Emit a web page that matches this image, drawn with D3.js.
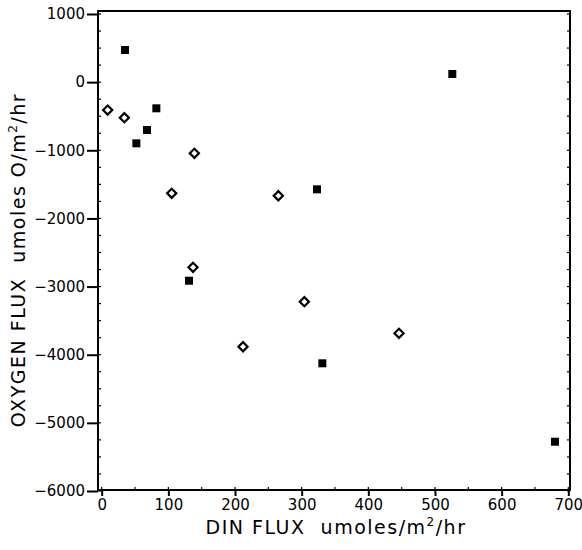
<!DOCTYPE html>
<html>
<head>
<meta charset="utf-8">
<script src="https://cdn.jsdelivr.net/npm/d3@7"></script>
<style>
  body { margin: 0; background: #fff; }
  svg text { font-family: "DejaVu Sans", sans-serif; fill: #000; }
</style>
</head>
<body>
<svg id="chart" width="582" height="550"></svg>
<script>
'use strict';

// filled squares
var filledX = [35, 82, 68, 52, 323, 131, 331, 526, 680];
var filledY = [472, -384, -702, -898, -1573, -2914, -4126, 120, -5277];
// open diamonds
var openX = [9, 34, 139, 105, 265, 137, 304, 212, 446];
var openY = [-409, -522, -1044, -1631, -1667, -2717, -3222, -3883, -3686];

var xTicks = [0, 100, 200, 300, 400, 500, 600, 700];
var yTicks = [1000, 0, -1000, -2000, -3000, -4000, -5000, -6000];

var svg = d3.select("#chart");
var padL = 98, padR = 570, padT = 11, padB = 490;

var x = d3.scaleLinear().domain([0, 700]).range([101.7, 568.3]);
var y = d3.scaleLinear().domain([-6000, 1000]).range([491, 14]);

var fmt = function(d) { return d < 0 ? "\u2212" + Math.abs(d) : "" + d; };

// frame
svg.append("rect")
  .attr("x", padL).attr("y", padT)
  .attr("width", padR - padL).attr("height", padB - padT)
  .style("fill", "none").style("stroke", "#000").style("stroke-width", 2);

// minor inward ticks
var yMinor = d3.range(-6000, 1001, 250);
svg.append("g").selectAll("line")
  .data(yMinor)
  .enter().append("line")
  .attr("x1", padL).attr("x2", padL + 3)
  .attr("y1", function(d) { return y(d); }).attr("y2", function(d) { return y(d); })
  .style("stroke", "#000").style("stroke-width", 1.2);
svg.append("g").selectAll("line")
  .data(yMinor)
  .enter().append("line")
  .attr("x1", padR).attr("x2", padR - 3)
  .attr("y1", function(d) { return y(d); }).attr("y2", function(d) { return y(d); })
  .style("stroke", "#000").style("stroke-width", 1.2);
var xMinor = d3.range(0, 701, 50);
svg.append("g").selectAll("line")
  .data(xMinor)
  .enter().append("line")
  .attr("x1", function(d) { return x(d); }).attr("x2", function(d) { return x(d); })
  .attr("y1", padB).attr("y2", padB - 3)
  .style("stroke", "#000").style("stroke-width", 1.2);

// x axis
var xAxis = svg.append("g")
  .attr("transform", "translate(0," + padB + ")")
  .call(d3.axisBottom(x).tickValues(xTicks).tickSize(6).tickPadding(3).tickFormat(fmt));
xAxis.select(".domain").remove();
xAxis.selectAll("line").style("stroke-width", 2);
xAxis.selectAll("text").style("font-size", "15px").style("font-family", "DejaVu Sans, sans-serif");

// y axis
var yAxis = svg.append("g")
  .attr("transform", "translate(" + padL + ",0)")
  .call(d3.axisLeft(y).tickValues(yTicks).tickSize(11).tickPadding(2).tickFormat(fmt));
yAxis.select(".domain").remove();
yAxis.selectAll("line").style("stroke-width", 2);
yAxis.selectAll("text").style("font-size", "15px").style("font-family", "DejaVu Sans, sans-serif");

// axis titles
var xt = svg.append("text")
  .attr("x", 336).attr("y", 534)
  .attr("text-anchor", "middle")
  .style("font-size", "19px").style("letter-spacing", "1.5px");
xt.append("tspan").text("DIN FLUX\u00a0\u00a0umoles/m");
xt.append("tspan").attr("dy", -8).style("font-size", "12px").text("2");
xt.append("tspan").attr("dy", 8).text("/hr");

var yt = svg.append("text")
  .attr("transform", "translate(25,260) rotate(-90)")
  .attr("text-anchor", "middle")
  .style("font-size", "19px").style("letter-spacing", "1.5px");
yt.append("tspan").text("OXYGEN FLUX\u00a0\u00a0umoles O/m");
yt.append("tspan").attr("dy", -8).style("font-size", "12px").text("2");
yt.append("tspan").attr("dy", 8).text("/hr");

// filled squares
var sq = d3.symbol().type(d3.symbolSquare).size(64);
svg.append("g").selectAll("path")
  .data(d3.range(filledX.length))
  .enter().append("path")
  .attr("d", sq)
  .attr("transform", function(i) { return "translate(" + x(filledX[i]) + "," + y(filledY[i]) + ")"; })
  .style("fill", "#000");

// open diamonds
var dm = d3.symbol().type(d3.symbolSquare).size(42);
svg.append("g").selectAll("path")
  .data(d3.range(openX.length))
  .enter().append("path")
  .attr("d", dm)
  .attr("transform", function(i) { return "translate(" + x(openX[i]) + "," + y(openY[i]) + ") rotate(45)"; })
  .style("fill", "#fff").style("stroke", "#000").style("stroke-width", 2.2);
</script>
</body>
</html>
